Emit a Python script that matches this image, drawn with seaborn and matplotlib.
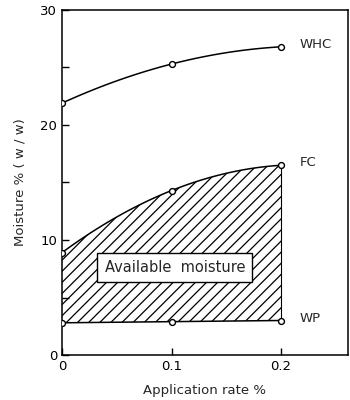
import numpy as np
import pandas as pd
import matplotlib
matplotlib.use("Agg")
import matplotlib.pyplot as plt
import seaborn as sns

rates = [0.0, 0.1, 0.2]
whc = [21.9, 25.3, 26.8]
fc = [8.9, 14.3, 16.5]
wp = [2.8, 2.9, 3.0]
series_names = ["WHC", "FC", "WP"]

sns.set_style("ticks")
plt.rcParams['font.family'] = ['DejaVu Sans']
plt.rcParams['hatch.linewidth'] = 0.9

fig = plt.figure(figsize=(3.5, 4.0), dpi=100)
ax = fig.add_axes([0.177, 0.1125, 0.817, 0.8625])

df = pd.DataFrame({"rate": rates * 3,
                   "value": whc + fc + wp,
                   "series": sum([[n] * 3 for n in series_names], [])})

# smooth curves through the three points (display only)
xs = np.linspace(0, 0.2, 60)
smooth = {}
for name, vals in zip(series_names, [whc, fc, wp]):
    coef = np.polyfit(rates, vals, 2)
    smooth[name] = np.polyval(coef, xs)
    ax.plot(xs, smooth[name], color="black", lw=1.1)

ax.fill_between(xs, smooth["WP"], smooth["FC"], facecolor="none",
                edgecolor="black", hatch="///", lw=0)
ax.plot([0.2, 0.2], [wp[2], fc[2]], color="black", lw=0.8)

sns.scatterplot(data=df, x="rate", y="value", ax=ax, marker="o", s=18,
                facecolor="white", edgecolor="black", linewidth=1, zorder=5,
                legend=False)

for name, vals in zip(series_names, [whc, fc, wp]):
    ax.text(0.217, vals[2] + 0.2, name, fontsize=9.5, va="center", ha="left")

ax.text(0.103, 7.6, "Available  moisture", fontsize=10.5, ha="center", va="center",
        bbox=dict(boxstyle="square,pad=0.5", facecolor="white", edgecolor="black", lw=1),
        zorder=6)

ax.set_xlim(0, 0.261)
ax.set_ylim(0, 30)
ax.set_xticks([0, 0.1, 0.2])
ax.set_xticklabels(["0", "0.1", "0.2"])
ax.set_yticks([0, 5, 10, 15, 20, 25, 30])
ax.set_yticklabels(["0", "", "10", "", "20", "", "30"])
ax.tick_params(direction="in", length=5, width=1, labelsize=9.5, colors="black")
ax.set_xlabel("Application rate %", fontsize=9.5, labelpad=8)
ax.set_ylabel("Moisture % ( w / w)", fontsize=9.5, labelpad=10)
for sp in ax.spines.values():
    sp.set_visible(True)
    sp.set_linewidth(1.1)
    sp.set_color("black")

fig.savefig("out.png", dpi=100)
